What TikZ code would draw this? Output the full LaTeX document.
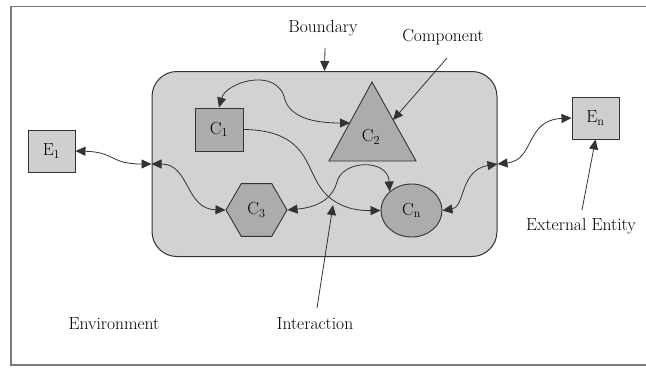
\documentclass[tikz,border=0pt]{standalone}
\usepackage{fontspec}
\usetikzlibrary{shapes.geometric,arrows.meta}
\definecolor{bfill}{HTML}{D3D2D2}
\definecolor{cfill}{HTML}{ADACAC}
\definecolor{efill}{HTML}{D0CFCF}
\definecolor{ln}{HTML}{333333}
\definecolor{frame}{HTML}{7A7A7A}
\tikzset{
  bigfont/.style={font=\fontsize{17.5}{21}\selectfont},
  lbl/.style={bigfont, inner sep=0pt},
  shapebase/.style={draw=ln, line width=0.9pt, bigfont, inner sep=0pt},
  comp/.style={shapebase, fill=cfill},
  ent/.style={shapebase, fill=efill, minimum width=47pt, minimum height=42pt},
  conn/.style={draw=ln, line width=0.8pt},
  tipend/.style={-{Triangle[length=10pt,width=9pt]}},
  tipboth/.style={{Triangle[length=10pt,width=9pt]}-{Triangle[length=10pt,width=9pt]}}
}
\begin{document}
\begin{tikzpicture}[x=1pt,y=-1pt]
\useasboundingbox (0,0) rectangle (646,368);
% frame
\draw[frame, line width=1.8pt] (646,6.5) -- (11,6.5) -- (11,365) -- (646,365);

% boundary
\node[draw=ln, fill=bfill, rounded corners=25pt, minimum width=345pt, minimum height=185pt, line width=1pt, inner sep=0pt] (B) at (324.5,164) {};

% components
\node[comp, rectangle, minimum width=48pt, minimum height=43pt] (C1) at (219,129.5) {C\textsubscript{1}};
\filldraw[draw=ln, fill=cfill, line width=0.9pt] (372,82) -- (416,161) -- (329,161) -- cycle;
\node[lbl] (C2) at (371,137) {C\textsubscript{2}};
\coordinate (C2w) at (350,123);
\coordinate (C2e) at (393,120);
\node[comp, regular polygon, regular polygon sides=6, minimum size=61pt] (C3) at (256.5,210) {C\textsubscript{3}};
\node[comp, ellipse, minimum width=61pt, minimum height=53pt] (Cn) at (411.5,210.5) {C\textsubscript{n}};

% external entities
\node[ent] (E1) at (51.5,151) {E\textsubscript{1}};
\node[ent] (En) at (595.5,118) {E\textsubscript{n}};

% connectors
\draw[conn, tipboth] (E1.east) .. controls (115,152) and (110,164) .. (B.west);
\draw[conn, tipboth] (B.west) .. controls (190,164) and (185,209) .. (C3.west);
\draw[conn, tipboth] (C1.north) .. controls (226,82) and (278,66) .. (285,100) .. controls (292,120) and (320,123) .. (C2w);
\draw[conn, tipend] (C1.east) .. controls (300,130) and (305,160) .. (315,178) .. controls (325,200) and (345,211) .. (Cn.west);
\draw[conn, tipboth] (C3.east) .. controls (320,207) and (333,197) .. (337,182) .. controls (342,160) and (388,158) .. (Cn.north west);
\draw[conn, tipboth] (B.east) .. controls (460,170) and (465,207) .. (Cn.east);
\draw[conn, tipboth] (B.east) .. controls (535,160) and (525,120) .. (En.west);

% annotations
\node[lbl] (LB) at (323,28) {Boundary};
\node[lbl] (LC) at (443,37) {Component};
\node[lbl] (LEnv) at (114,324) {Environment};
\node[lbl] (LI) at (315,324) {Interaction};
\node[lbl] (LE) at (581,226) {External Entity};
\coordinate (aB) at (325,48);
\coordinate (aC) at (447,58);
\coordinate (aI) at (317,308);
\coordinate (aIe) at (333,205);
\coordinate (aE) at (582,210);
\draw[conn, tipend] (aB) -- (B.north);
\draw[conn, tipend] (aC) -- (C2e);
\draw[conn, tipend] (aI) -- (aIe);
\draw[conn, tipend] (aE) -- (En.south);
\end{tikzpicture}
\end{document}
